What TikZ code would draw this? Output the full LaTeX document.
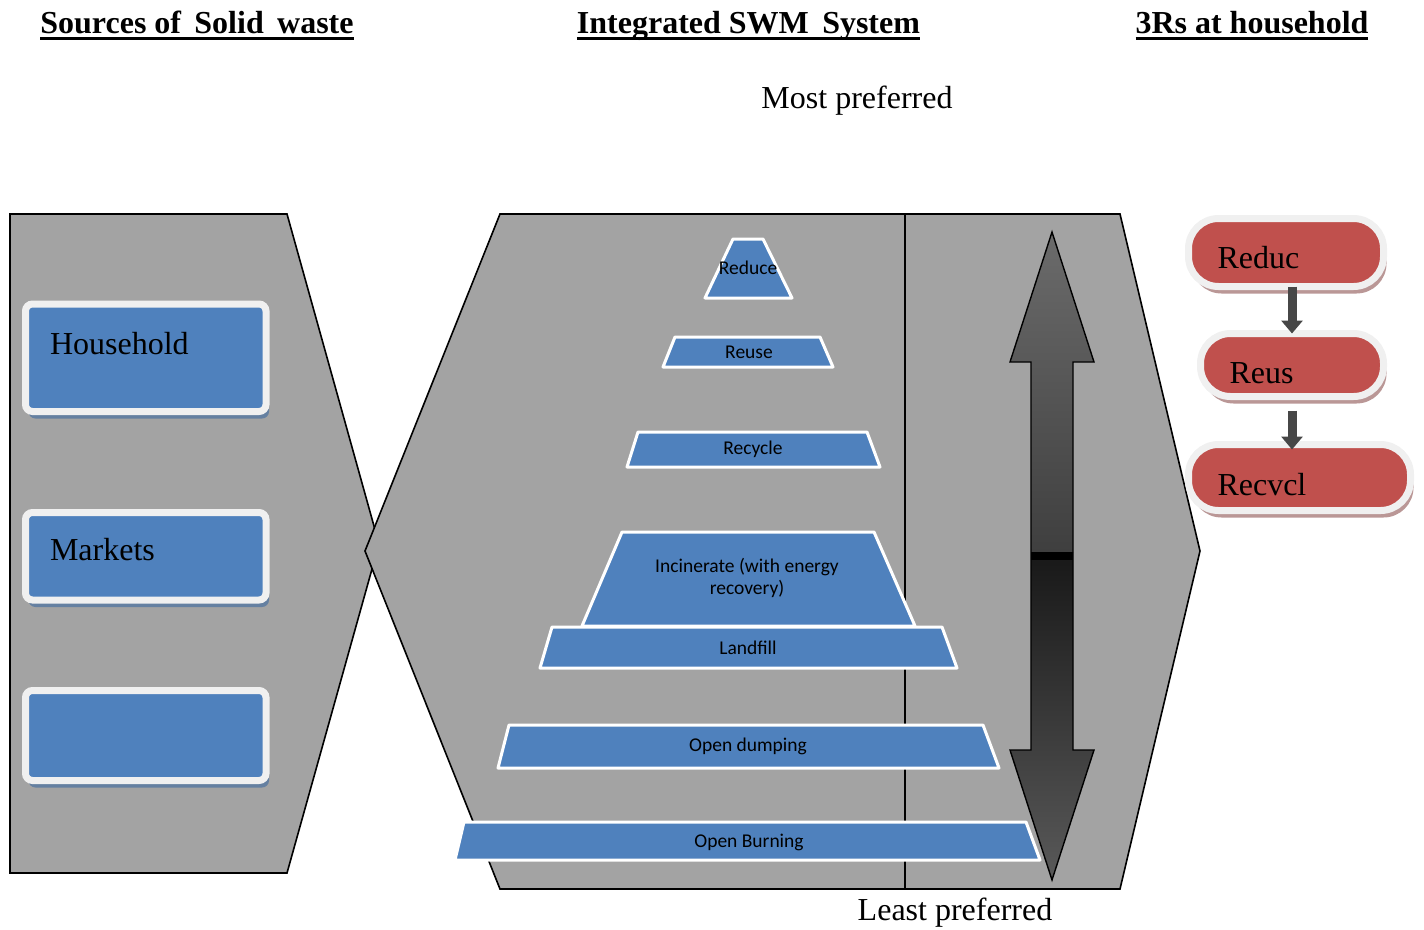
\documentclass[tikz,border=0pt]{standalone}
\usepackage{fontspec}
\setmainfont{Liberation Serif}
\newfontfamily\tierfont{Carlito}
\usetikzlibrary{positioning,shadows,arrows.meta}
\definecolor{boxblue}{HTML}{4F81BD}
\definecolor{pillred}{HTML}{C0504D}
\definecolor{rim}{HTML}{F0F0F0}
\definecolor{granite}{HTML}{A3A3A3}
\newcommand\headrule[1]{\setbox0=\hbox{#1}\rlap{\rule[-7pt]{\wd0}{3pt}}\box0}
\tikzset{
  heading/.style={anchor=base,font=\bfseries\fontsize{32}{36}\selectfont},
  remark/.style={anchor=base,font=\fontsize{32}{36}\selectfont},
  panel/.style={draw=black,line width=1.6pt,fill=granite},
  srcbox/.style={rectangle,rounded corners=7pt,fill=boxblue,draw=rim,line width=7pt,
    drop shadow={shadow xshift=3pt,shadow yshift=-7pt,fill=boxblue!55!gray,opacity=1},
    anchor=north west,outer sep=0pt,inner xsep=24.5pt,inner ysep=0pt,text width=191.5pt,
    align=left,font=\fontsize{32}{36}\selectfont},
  pill/.style={rectangle,rounded corners=30pt,fill=pillred,draw=rim,line width=7pt,
    drop shadow={shadow xshift=3pt,shadow yshift=-7pt,fill=pillred!45!gray!70,opacity=1},
    anchor=north west,outer sep=0pt,inner xsep=29pt,inner ysep=0pt,align=left,
    font=\fontsize{32}{36}\selectfont},
  tier/.style={fill=boxblue,draw=white,line width=3pt,line join=round},
  tierlabel/.style={font=\tierfont\fontsize{19.5}{22}\selectfont,align=center,inner sep=0pt},
  rstep/.style={line width=9pt,draw=black!72,-{Triangle[width=21pt,length=13pt]}},
}
\begin{document}
\begin{tikzpicture}[x=1pt,y=-1pt]
\useasboundingbox (0,0) rectangle (1424,929);
% headings
\node[heading] (srchead) at (197,33) {\headrule{Sources of\ \,Solid\ \,waste}};
\node[heading] (swmhead) at (748.5,33) {\headrule{Integrated SWM\ \,System}};
\node[heading] (rhead) at (1252,33) {\headrule{3Rs at household}};
\node[remark] (most) at (857,108) {Most preferred};
\node[remark] (least) at (955,920) {Least preferred};
% panels
\draw[panel] (10,214) -- (287,214) -- (379,544) -- (287,873) -- (10,873) -- cycle;
\draw[panel] (500,214) -- (1120,214) -- (1200,551) -- (1120,889) -- (500,889) -- (365,551) -- cycle;
\draw[line width=1.2pt] (905,214) -- (905,889);
% waste hierarchy
\filldraw[tier] (733,239) -- (763,239) -- (792,298) -- (705,298) -- cycle;
\node[tierlabel] (reduce) at (748,268) {Reduce};
\filldraw[tier] (675,337) -- (820,337) -- (833,367) -- (663,367) -- cycle;
\node[tierlabel] (reuse) at (749,352) {Reuse};
\filldraw[tier] (638,432) -- (867,432) -- (880,467) -- (627,467) -- cycle;
\node[tierlabel] (recycle) at (753,449) {Recycle};
\filldraw[tier] (622,532) -- (874,532) -- (915,626) -- (582,626) -- cycle;
\node[tierlabel] (incinerate) at (747,578) {Incinerate (with energy\\recovery)};
\filldraw[tier] (552,627) -- (942,627) -- (957,668) -- (540,668) -- cycle;
\node[tierlabel] (landfill) at (748,648) {Landfill};
\filldraw[tier] (509,725) -- (983,725) -- (999,768) -- (498,768) -- cycle;
\node[tierlabel] (dumping) at (748,746) {Open dumping};
\filldraw[tier] (464,822) -- (1026,822) -- (1040,860) -- (455,860) -- cycle;
\node[tierlabel] (burning) at (749,842) {Open Burning};
% preference arrow
\draw[line width=1.4pt,path picture={
    \shade[top color=black!58,bottom color=black!93]
      (path picture bounding box.north west) rectangle ([yshift=4pt]path picture bounding box.east);
    \fill[black] ([yshift=4pt]path picture bounding box.west) rectangle ([yshift=-4pt]path picture bounding box.east);
    \shade[top color=black!90,bottom color=black!65]
      ([yshift=-4pt]path picture bounding box.west) rectangle (path picture bounding box.south east);
  }]
  (1052,232) -- (1094,362) -- (1073,362) -- (1073,750) -- (1094,750) -- (1052,880)
  -- (1010,750) -- (1031,750) -- (1031,362) -- (1010,362) -- cycle;
% sources
\node[srcbox,text height=50pt,text depth=57.5pt] (household) at (25.5,304) {Household};
\node[srcbox,text height=47.5pt,text depth=40pt] (markets) at (25.5,512.5) {Markets};
\node[srcbox,text height=45pt,text depth=45pt] (other) at (25.5,690.5) {};
% 3Rs
\node[pill,text width=137pt,text height=49.5pt,text depth=18.5pt] (reduc) at (1188.5,218.5) {Reduc};
\node[pill,text width=125pt,text height=49.5pt,text depth=13.5pt] (reus) at (1200.5,333.5) {Reus};
\node[pill,text width=164pt,text height=50.5pt,text depth=15.5pt] (recvcl) at (1188.5,444.5) {Recvcl};
\coordinate (s1) at ([yshift=-14pt]reus.south);
\coordinate (e1) at ([yshift=-5pt]recvcl.north -| reus.south);
\draw[rstep] (reduc.south -| reus.north) -- (reus.north);
\draw[rstep] (s1) -- (e1);
\end{tikzpicture}
\end{document}
